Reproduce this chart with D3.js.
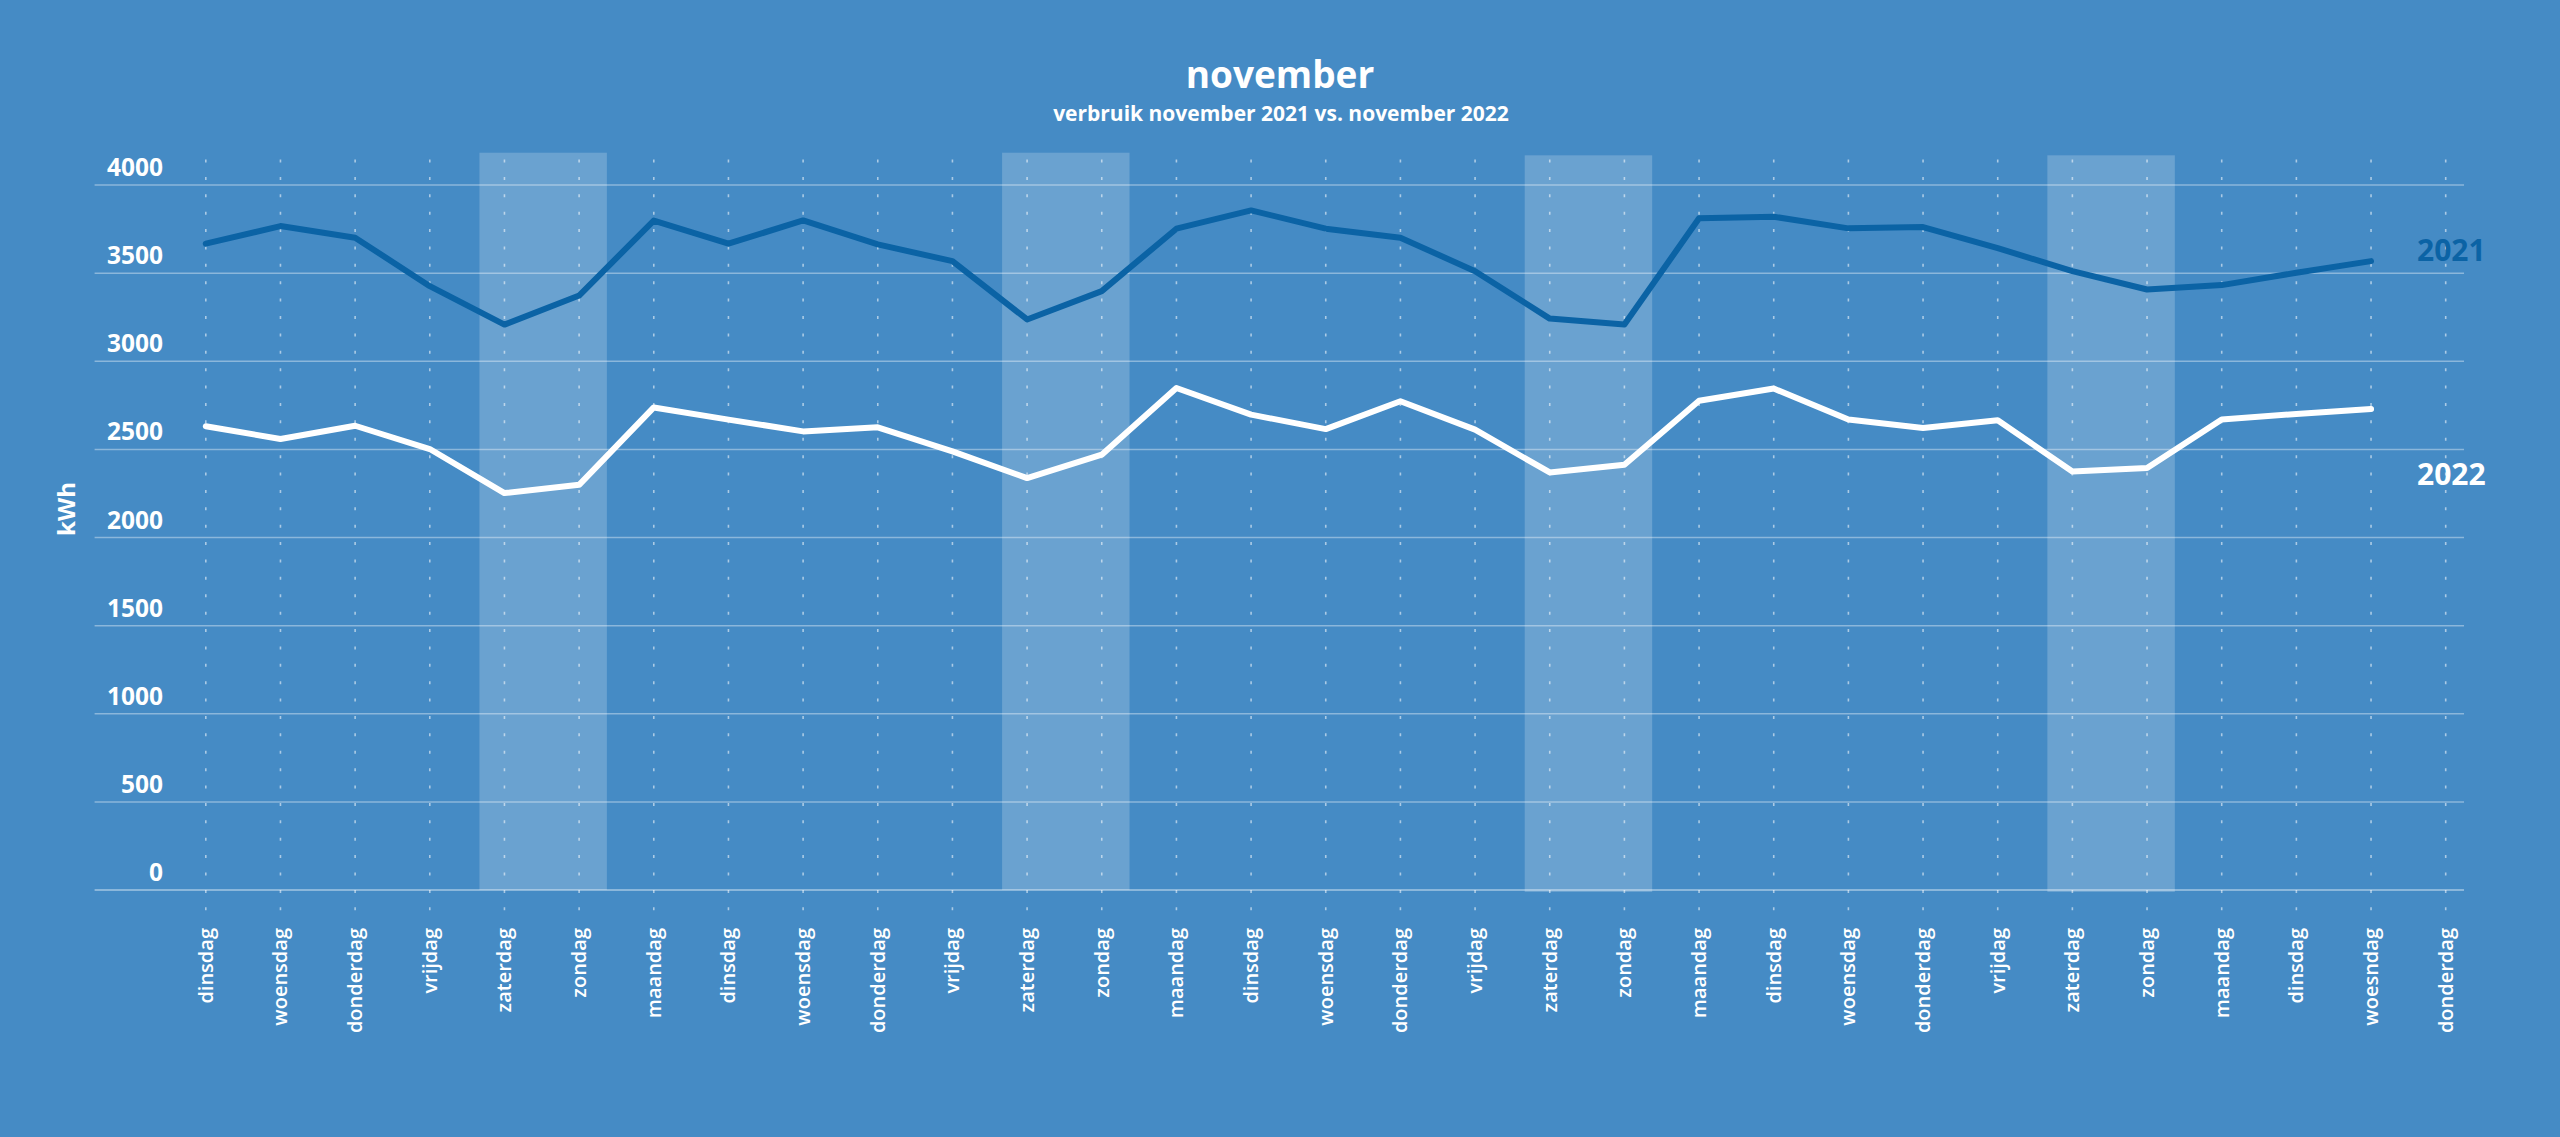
<!DOCTYPE html>
<html>
<head>
<meta charset="utf-8">
<script src="https://cdn.jsdelivr.net/npm/d3@7"></script>
<style>
  html, body { margin: 0; padding: 0; background: #458bc5; }
  svg { display: block; }
  text { font-family: "Open Sans", "DejaVu Sans", sans-serif; fill: #fff; }
</style>
</head>
<body>
<svg id="chart" width="2560" height="1137"></svg>
<script>
// ---- data ----
const days = ["dinsdag","woensdag","donderdag","vrijdag","zaterdag","zondag","maandag",
  "dinsdag","woensdag","donderdag","vrijdag","zaterdag","zondag","maandag",
  "dinsdag","woensdag","donderdag","vrijdag","zaterdag","zondag","maandag",
  "dinsdag","woensdag","donderdag","vrijdag","zaterdag","zondag","maandag",
  "dinsdag","woesndag","donderdag"];
const values2021 = [3667,3767,3701,3426,3208,3373,3798,3667,3799,3663,3568,3237,3398,3752,3856,3752,3701,3511,3242,3208,3811,3820,3754,3761,3642,3511,3407,3432,3502,3568];
const values2022 = [2631,2559,2634,2502,2252,2299,2738,2669,2602,2625,2489,2337,2470,2848,2697,2615,2773,2612,2369,2413,2776,2845,2669,2621,2665,2375,2394,2669,2701,2729];
const yTicks = [0,500,1000,1500,2000,2500,3000,3500,4000];
const seriesNames = ["2021","2022"];
const title = "november";
const subtitle = "verbruik november 2021 vs. november 2022";
const yLabel = "kWh";

// ---- layout ----
const W = 2560, H = 1137;
const svg = d3.select("#chart");
const bg = "#458bc5";
const darkBlue = "#0b63a5";

svg.append("rect").attr("width", W).attr("height", H).attr("fill", bg);

const x = d3.scalePoint().domain(d3.range(days.length)).range([205.8, 2445.7]);
const y = d3.scaleLinear().domain([0, 4000]).range([890, 185]);
const step = x.step();
const gridLeft = 94.6, gridRight = 2464;

// weekend bands
const satIdx = days.map((d, i) => d === "zaterdag" ? i : -1).filter(i => i >= 0);
svg.append("g").selectAll("rect").data(satIdx).join("rect")
  .attr("x", i => x(i) - 0.335 * step)
  .attr("width", i => (x(i + 1) + 0.372 * step) - (x(i) - 0.335 * step))
  .attr("y", (i, k) => k < 2 ? 152.7 : 155.3)
  .attr("height", (i, k) => k < 2 ? 890 - 152.7 : 892 - 155.3)
  .attr("fill", "rgba(255,255,255,0.2)");

// dashed verticals
svg.append("g").selectAll("line").data(d3.range(days.length)).join("line")
  .attr("x1", i => x(i)).attr("x2", i => x(i))
  .attr("y1", 159.5).attr("y2", 912)
  .attr("stroke", "rgba(255,255,255,0.55)")
  .attr("stroke-width", 1.6)
  .attr("stroke-dasharray", "3 14.39");

// horizontal gridlines
svg.append("g").selectAll("line").data(yTicks).join("line")
  .attr("x1", gridLeft).attr("x2", gridRight)
  .attr("y1", d => y(d)).attr("y2", d => y(d))
  .attr("stroke", "rgba(255,255,255,0.38)")
  .attr("stroke-width", d => d === 0 ? 2 : 1.5);

// y tick labels (above gridlines)
svg.append("g").selectAll("text").data(yTicks).join("text")
  .attr("x", 163).attr("y", d => y(d) - 9)
  .attr("text-anchor", "end")
  .attr("font-size", 24.5).attr("font-weight", 700)
  .text(d => d);

// y axis title
svg.append("text")
  .attr("transform", "translate(67,509) rotate(-90)")
  .attr("text-anchor", "middle").attr("dy", "0.35em")
  .attr("font-size", 24).attr("font-weight", 700)
  .text(yLabel);

// x labels
svg.append("g").selectAll("text").data(days).join("text")
  .attr("transform", (d, i) => `translate(${x(i)},928) rotate(-90)`)
  .attr("text-anchor", "end").attr("dy", "0.35em")
  .attr("font-size", 20).attr("font-weight", 600)
  .text(d => d);

// lines
const line = d3.line().x((d, i) => x(i)).y(d => y(d));
svg.append("path").datum(values2021)
  .attr("d", line).attr("fill", "none")
  .attr("stroke", darkBlue).attr("stroke-width", 6)
  .attr("stroke-linecap", "round").attr("stroke-linejoin", "round");
svg.append("path").datum(values2022)
  .attr("d", line).attr("fill", "none")
  .attr("stroke", "#ffffff").attr("stroke-width", 6)
  .attr("stroke-linecap", "round").attr("stroke-linejoin", "round");

// series labels
svg.append("text").attr("x", 2417).attr("y", y(values2021[values2021.length - 1]))
  .attr("font-size", 30).attr("font-weight", 700).style("fill", darkBlue)
  .text(seriesNames[0]);
svg.append("text").attr("x", 2417).attr("y", y(2298))
  .attr("font-size", 30).attr("font-weight", 700)
  .text(seriesNames[1]);

// titles
svg.append("text").attr("x", W / 2).attr("y", 88)
  .attr("text-anchor", "middle").attr("font-size", 37).attr("font-weight", 700)
  .text(title);
svg.append("text").attr("x", W / 2 + 1).attr("y", 121)
  .attr("text-anchor", "middle").attr("font-size", 21).attr("font-weight", 700)
  .text(subtitle);
</script>
</body>
</html>
